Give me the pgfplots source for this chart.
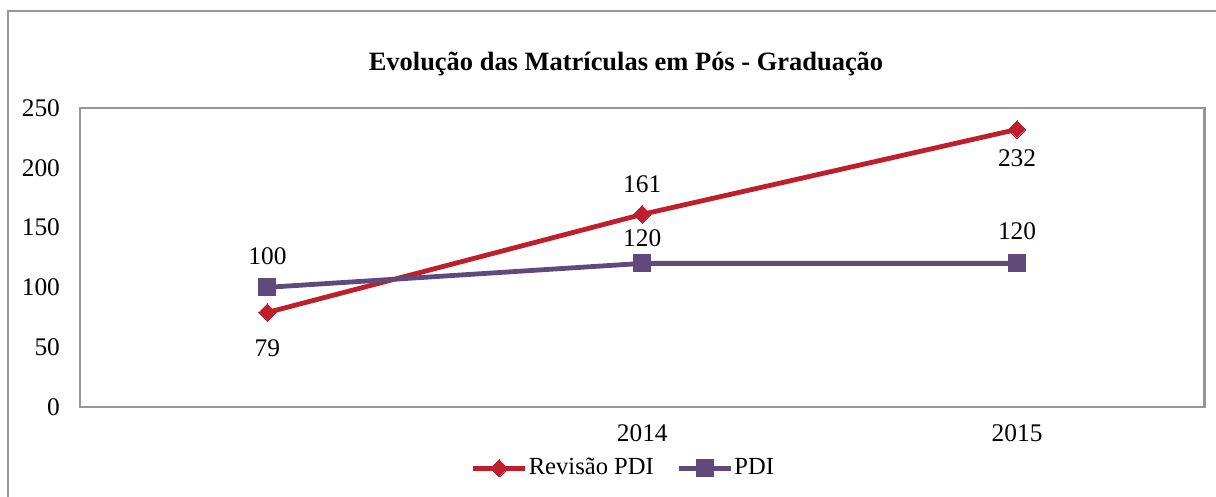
\documentclass[border=0pt]{standalone}
\usepackage{fontspec}
\setmainfont{Liberation Serif}
\usepackage{pgfplots}
\usepackage{pgfplotstable}
\pgfplotsset{compat=1.18}
\definecolor{clrRev}{RGB}{192,30,45}
\definecolor{clrPDI}{RGB}{96,74,123}
\definecolor{clrFrame}{RGB}{150,150,150}

% dy: label offset in pt (negative = below the point)
\pgfplotstableread{
x  y    dy
0  79   -13.5
1  161  11.2
2  232  -10.9
}\revisao
\pgfplotstableread{
x  y    dy
0  100  11.6
1  120  9.4
2  120  12.0
}\pdi

\begin{document}
\begin{tikzpicture}[x=0.013158cm, y=0.013158cm]
\path[use as bounding box] (0,0) rectangle (1216,497);
\draw[clrFrame, line width=0.8pt] (8,0) -- (8,486) -- (1216,486);
\node[font=\fontsize{9.9}{12}\selectfont\bfseries] at (626,433) {Evolução das Matrículas em Pós - Graduação};

\begin{axis}[
  at={(1.0526cm,1.1842cm)}, anchor=south west,
  scale only axis,
  width=14.79cm, height=3.934cm,
  xmin=-0.5, xmax=2.5,
  ymin=0, ymax=250,
  xtick={0,1,2}, xticklabels={{},2014,2015},
  ytick={0,50,100,150,200,250},
  major tick length=0pt,
  axis line style={clrFrame, line width=0.8pt},
  tick label style={font=\fontsize{9.5}{11}\selectfont},
  /pgf/number format/assume math mode=true,
  yticklabel style={xshift=-4pt},
  xticklabel style={yshift=-3pt},
  legend style={draw=none, at={(0.483,-0.205)}, anchor=center, legend columns=2,
    font=\fontsize{9.2}{11}\selectfont, /tikz/every even column/.append style={column sep=8pt},
    inner sep=0pt, nodes={inner sep=0.5pt}},
  legend image code/.code={
    \draw[mark repeat=2, mark phase=2] plot coordinates {(0cm,0cm) (0.34cm,0cm) (0.68cm,0cm)};
  },
  labelstyle/.style={
    forget plot, draw=none, mark=none,
    nodes near coords, point meta=explicit,
    visualization depends on={\thisrow{dy} \as \dy},
    every node near coord/.append style={font=\fontsize{9.5}{11}\selectfont, anchor=center, yshift=\dy pt, text=black},
  },
]
\addplot[clrRev, line width=1.8pt, mark=square*, mark size=2.3pt,
  mark options={solid, line width=0pt, rotate=45}]
  table[x=x, y=y] {\revisao};
\addlegendentry{Revisão PDI}
\addplot[clrPDI, line width=1.8pt, mark=square*, mark size=3.2pt,
  mark options={solid, line width=0pt}]
  table[x=x, y=y] {\pdi};
\addlegendentry{PDI}
\addplot[labelstyle] table[x=x, y=y, meta=y] {\revisao};
\addplot[labelstyle] table[x=x, y=y, meta=y] {\pdi};
\end{axis}
\end{tikzpicture}
\end{document}
